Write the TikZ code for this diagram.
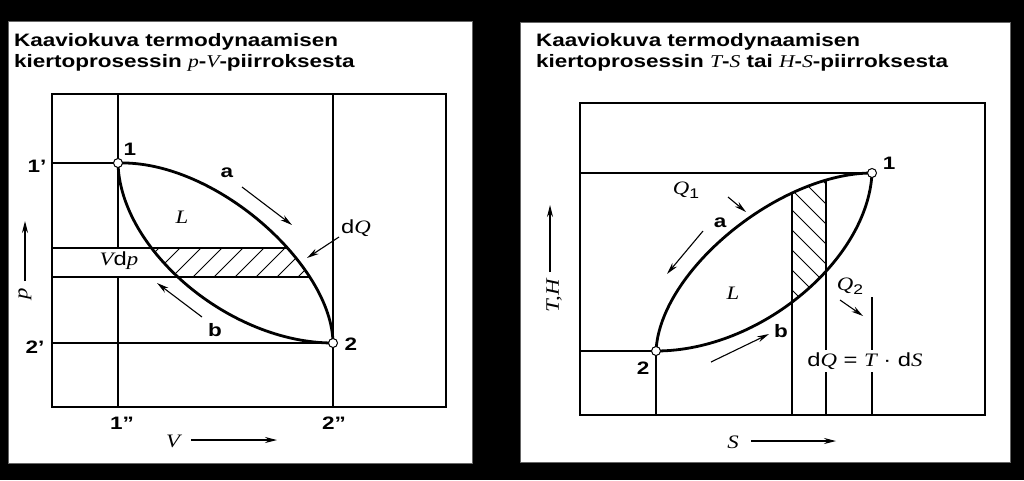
\documentclass[tikz,border=0pt]{standalone}
\usepackage{fontspec}
\setmainfont{Liberation Sans}[FakeStretch=1.25]
\newfontfamily\tms{Liberation Serif}[FakeStretch=1.2]
\usetikzlibrary{arrows.meta}
\newcommand{\vr}[1]{{\tms\mdseries\itshape #1}}
\newcommand{\subn}[1]{\raisebox{-4pt}{\fontsize{14}{14}\selectfont #1}}

\tikzset{
  panel/.style={fill=white, draw=black!60, line width=0.8pt},
  title/.style={anchor=north west, align=left, inner sep=0pt, font=\fontsize{18}{21}\selectfont\bfseries},
  gline/.style={line width=1.3pt},
  proc/.style={line width=2.8pt},
  hatch/.style={line width=0.8pt},
  pt/.style={circle, draw, line width=1pt, fill=white, inner sep=0pt, minimum size=9pt},
  num/.style={font=\fontsize{18}{18}\selectfont\bfseries, inner sep=1pt},
  sym/.style={font=\fontsize{19}{19}\selectfont, inner sep=1pt},
  flow/.style={line width=1.1pt, -{Stealth[length=12pt,width=6pt]}}
}

\begin{document}
\begin{tikzpicture}[x=1pt,y=-1pt]
\fill[black] (0,0) rectangle (1024,480);
\filldraw[panel] (8,21) rectangle (472,463);
\filldraw[panel] (520,22) rectangle (1010,462);

% p-V diagram
\node[title] (tpv) at (14,33) {Kaaviokuva termodynaamisen\\kiertoprosessin \vr{p}-\vr{V}-piirroksesta};
\draw[gline] (52,94) rectangle (446,407);
\coordinate (l1) at (118,163);
\coordinate (l2) at (333,343);
\draw[gline] (118,94) -- (118,248) (118,277) -- (118,407);
\draw[gline] (333,94) -- (l2) -- (333,407);
\draw[gline] (52,163) -- (l1);
\draw[gline] (52,343) -- (l2);
\draw[gline] (52,248) -- (288,248);
\draw[gline] (52,277) -- (310,277);
\begin{scope}
  \clip (l1) .. controls (215,160) and (332,265) .. (l2) .. controls (230,343) and (120,250) .. (l1) -- cycle;
  \clip (52,248) rectangle (446,277);
  \foreach \x in {130,151,...,340}
    \draw[hatch] (\x,277) -- ++(29,-29);
\end{scope}
\draw[proc] (l1) .. controls (215,160) and (332,265) .. (l2);
\draw[proc] (l1) .. controls (120,250) and (230,343) .. (l2);
\node[pt] (l1dot) at (l1) {};
\node[pt] (l2dot) at (l2) {};

\node[num] (n1) at (130,149) {1};
\node[num] (n2) at (351,344) {2};
\node[num] (n1p) at (37,166) {1'};
\node[num] (n2p) at (35,347) {2'};
\node[num] (n1pp) at (122,423) {1''};
\node[num] (n2pp) at (334,423) {2''};
\node[num] (la) at (227,173) {a};
\node[num] (lb) at (215,330) {b};
\node[sym] (lL) at (182,217) {\vr{L}};
\node[sym] (lvdp) at (119,261) {\vr{V}d\vr{p}};
\node[sym] (ldq) at (356,228) {d\vr{Q}};
\coordinate (a0) at (242,187);
\coordinate (a1) at (292,225);
\draw[flow] (a0) -- (a1);
\coordinate (b0) at (202,317);
\coordinate (b1) at (157,283);
\draw[flow] (b0) -- (b1);
\coordinate (q0) at (339,237);
\coordinate (q1) at (307,258);
\draw[flow] (q0) -- (q1);
\node[sym] (lV) at (173,441) {\vr{V}};
\coordinate (v0) at (191,440);
\coordinate (v1) at (277,440);
\draw[flow] (v0) -- (v1);
\node[sym, rotate=90] (lp) at (25,294) {\vr{p}};
\coordinate (p0) at (25,281);
\coordinate (p1) at (25,221);
\draw[flow] (p0) -- (p1);

% T-S diagram
\node[title] (tts) at (536,33) {Kaaviokuva termodynaamisen\\kiertoprosessin \vr{T}-\vr{S} tai \vr{H}-\vr{S}-piirroksesta};
\draw[gline] (580,103) rectangle (985,415);
\coordinate (r1) at (872,173);
\coordinate (r2) at (656,351);
\draw[gline] (580,173) -- (r1);
\draw[gline] (580,351) -- (r2) -- (656,415);
\draw[gline] (792,192) -- (792,415);
\draw[gline] (826,181) -- (826,415);
\draw[gline] (872,297) -- (872,415);
\begin{scope}
  \clip (r2) .. controls (660,270) and (780,173) .. (r1) .. controls (868,260) and (760,351) .. (r2) -- cycle;
  \clip (792,150) rectangle (826,360);
  \foreach \y in {130,150,...,330}
    \draw[hatch] (792,\y) -- ++(34,34);
\end{scope}
\draw[proc] (r2) .. controls (660,270) and (780,173) .. (r1);
\draw[proc] (r2) .. controls (760,351) and (868,260) .. (r1);
\node[pt] (r1dot) at (r1) {};
\node[pt] (r2dot) at (r2) {};

\node[num] (m1) at (889,163) {1};
\node[num] (m2) at (643,368) {2};
\node[num] (ra) at (720,223) {a};
\node[num] (rb) at (781,331) {b};
\node[sym] (rL) at (733,293) {\vr{L}};
\node[sym] (rq1) at (686,190) {\vr{Q}\subn{1}};
\node[sym] (rq2) at (850,286) {\vr{Q}\subn{2}};
\node[sym, fill=white, inner sep=3pt] (rdq) at (865,361) {d\vr{Q} = \vr{T} · d\vr{S}};
\coordinate (e0) at (728,197);
\coordinate (e1) at (746,212);
\draw[flow] (e0) -- (e1);
\coordinate (c0) at (703,231);
\coordinate (c1) at (667,274);
\draw[flow] (c0) -- (c1);
\coordinate (f0) at (840,300);
\coordinate (f1) at (863,316);
\draw[flow] (f0) -- (f1);
\coordinate (d0) at (711,362);
\coordinate (d1) at (769,334);
\draw[flow] (d0) -- (d1);
\node[sym] (lS) at (733,442) {\vr{S}};
\coordinate (s0) at (751,441);
\coordinate (s1) at (836,441);
\draw[flow] (s0) -- (s1);
\node[sym, rotate=90] (lth) at (554,296) {\vr{T,H}};
\coordinate (t0) at (550,272);
\coordinate (t1) at (550,205);
\draw[flow] (t0) -- (t1);
\end{tikzpicture}
\end{document}
